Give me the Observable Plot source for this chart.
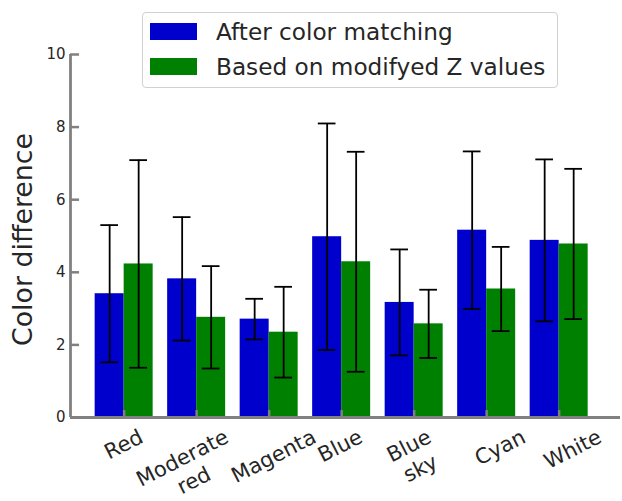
<!DOCTYPE html>
<html><head><meta charset="utf-8">
<script src="https://cdn.jsdelivr.net/npm/d3@7"></script>
<script src="https://cdn.jsdelivr.net/npm/@observablehq/plot@0.6"></script>
<style>
html,body{margin:0;padding:0;background:#fff;}
#wrap{position:relative;width:622px;height:501px;font-family:"DejaVu Sans",sans-serif;}
#legend{position:absolute;left:142px;top:12px;width:416px;height:76px;border:1px solid #d0d0d0;border-radius:4px;background:rgba(255,255,255,0.85);box-sizing:border-box;}
.item{position:absolute;left:7px;height:28px;display:flex;align-items:center;font-size:23.2px;color:#262626;white-space:nowrap;}
.sw{width:47px;height:17px;margin-right:19px;}
</style></head>
<body><div id="wrap"><div id="chart"></div><div id="legend"></div></div>
<script>
const categories = ["Red", "Moderate\nred", "Magenta", "Blue", "Blue\nsky", "Cyan", "White"];
const seriesNames = ["After color matching", "Based on modifyed Z values"];
const seriesColors = ["#0000cd", "#008000"];
const afterMean = [3.41, 3.82, 2.71, 4.98, 3.17, 5.16, 4.88];
const afterErr  = [1.89, 1.70, 0.56, 3.12, 1.46, 2.17, 2.23];
const zMean     = [4.23, 2.76, 2.35, 4.29, 2.58, 3.54, 4.78];
const zErr      = [2.86, 1.41, 1.25, 3.03, 0.94, 1.16, 2.07];
const yTicks = [0, 2, 4, 6, 8, 10];
const yLabel = "Color difference";

// layout tweaks (pixels) for the rotated category labels
const labelShift = [-1, -9, 4, -2, 0, 13, 13];

const rows = categories.map((c, i) => ({i, c, a: afterMean[i], ae: afterErr[i], z: zMean[i], ze: zErr[i]}));
const xDomain = [-0.74, 6.846];
const bw = 0.4, cap = 0.122;
const gray = "#808080", ink = "#262626";

const ctx = document.createElement("canvas").getContext("2d");
const fs = 21, deg = 27, ang = deg * Math.PI / 180;
ctx.font = fs + "px 'DejaVu Sans'";
const labelMarks = categories.map((c, i) => {
  const lines = c.split("\n");
  const w = Math.max(...lines.map(l => ctx.measureText(l).width));
  const H = (lines.length - 1) * 1.2 * fs + 1.17 * fs;
  const half = (w * Math.sin(ang) + H * Math.cos(ang)) / 2;
  return Plot.text([rows[i]], {x: "i", y: () => 0, text: "c", dx: labelShift[i], dy: 6 + half, rotate: -deg,
    textAnchor: "middle", lineAnchor: "middle", lineHeight: 1.2, fontSize: fs, fill: ink});
});

const chart = Plot.plot({
  width: 622, height: 501,
  marginLeft: 70, marginRight: 2, marginTop: 54, marginBottom: 84,
  x: {type: "linear", domain: xDomain, axis: null},
  y: {domain: [0, 10], axis: null},
  style: {fontFamily: "DejaVu Sans", background: "white", overflow: "visible"},
  marks: [
    Plot.rect(rows, {x1: d => d.i - bw, x2: d => d.i, y1: () => 0, y2: "a", fill: seriesColors[0]}),
    Plot.rect(rows, {x1: d => d.i, x2: d => d.i + bw, y1: () => 0, y2: "z", fill: seriesColors[1]}),
    Plot.ruleX(rows, {x: d => d.i - bw / 2, y1: d => d.a - d.ae, y2: d => d.a + d.ae, stroke: "#000", strokeWidth: 1.8}),
    Plot.ruleY(rows, {y: d => d.a + d.ae, x1: d => d.i - bw / 2 - cap, x2: d => d.i - bw / 2 + cap, stroke: "#000", strokeWidth: 1.8}),
    Plot.ruleY(rows, {y: d => d.a - d.ae, x1: d => d.i - bw / 2 - cap, x2: d => d.i - bw / 2 + cap, stroke: "#000", strokeWidth: 1.8}),
    Plot.ruleX(rows, {x: d => d.i + bw / 2, y1: d => d.z - d.ze, y2: d => d.z + d.ze, stroke: "#000", strokeWidth: 1.8}),
    Plot.ruleY(rows, {y: d => d.z + d.ze, x1: d => d.i + bw / 2 - cap, x2: d => d.i + bw / 2 + cap, stroke: "#000", strokeWidth: 1.8}),
    Plot.ruleY(rows, {y: d => d.z - d.ze, x1: d => d.i + bw / 2 - cap, x2: d => d.i + bw / 2 + cap, stroke: "#000", strokeWidth: 1.8}),
    // x ticks (inward)
    Plot.ruleX(rows, {x: "i", y1: () => 0, y2: () => 0.19, stroke: gray, strokeWidth: 2.5}),
    // y ticks (inward)
    Plot.ruleY(yTicks, {y: d => d, x1: () => xDomain[0], x2: () => xDomain[0] + 0.125, stroke: gray, strokeWidth: 2.5}),
    // axis lines
    Plot.ruleX([xDomain[0]], {stroke: gray, strokeWidth: 2.8}),
    Plot.ruleY([0], {stroke: gray, strokeWidth: 2.8}),
    // y tick labels
    Plot.text(yTicks, {x: () => xDomain[0], y: d => d, text: d => String(d), textAnchor: "end", dx: -5, fontSize: 15, fill: ink}),
    // y label
    Plot.text([yLabel], {frameAnchor: "left", text: d => d, textAnchor: "middle", lineAnchor: "middle", dx: -47, dy: 3.5, rotate: -90, fontSize: 26.8, fill: ink}),
    ...labelMarks
  ]
});
document.getElementById("chart").appendChild(chart);

const legend = document.getElementById("legend");
seriesNames.forEach((name, k) => {
  const item = document.createElement("div");
  item.className = "item";
  item.style.top = (4 + k * 35) + "px";
  const sw = document.createElement("div");
  sw.className = "sw";
  sw.style.background = seriesColors[k];
  const t = document.createElement("span");
  t.textContent = name;
  item.appendChild(sw); item.appendChild(t);
  legend.appendChild(item);
});
</script>
</body></html>
